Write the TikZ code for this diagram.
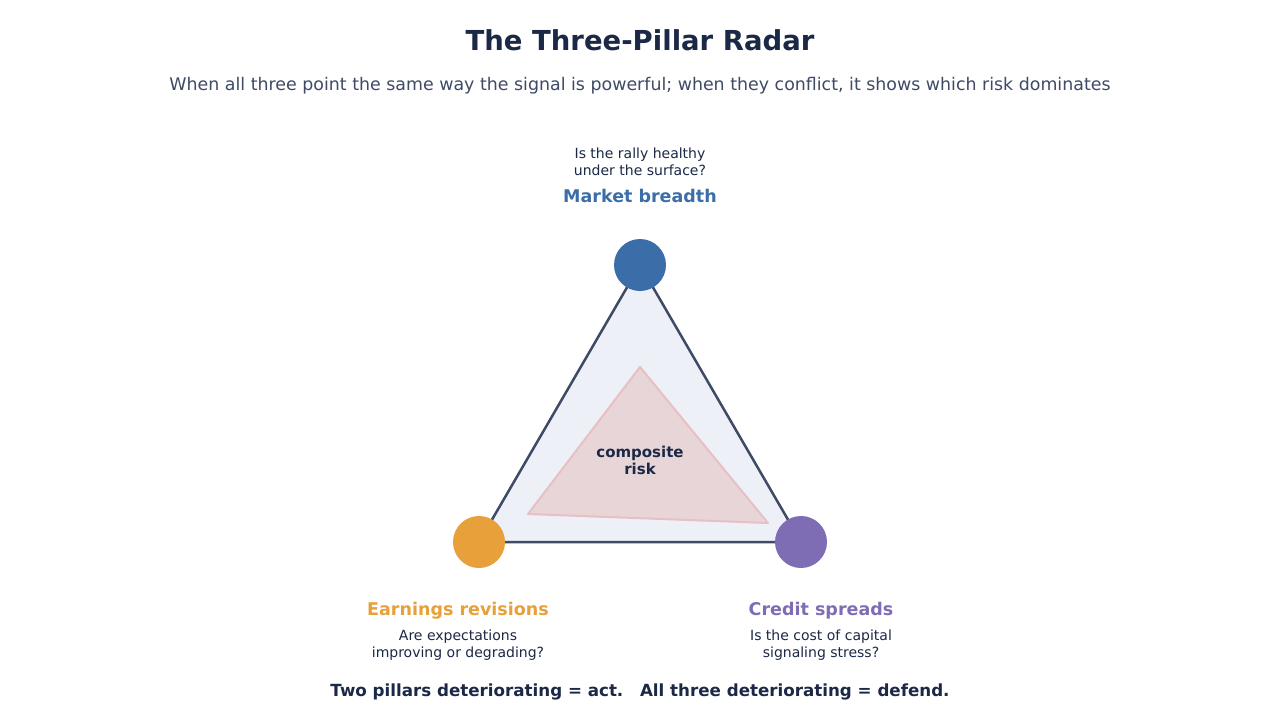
\documentclass[tikz,border=0pt]{standalone}
\usepackage{fontspec}
\setmainfont{DejaVu Sans}
\usetikzlibrary{positioning}
\definecolor{titlenavy}{HTML}{1B2846}
\definecolor{subgray}{HTML}{3F4A66}
\definecolor{breadthblue}{HTML}{3B6EA8}
\definecolor{earnorange}{HTML}{E8A03A}
\definecolor{creditpurple}{HTML}{7E6DB5}
\definecolor{outerfill}{HTML}{EDF0F7}
\definecolor{riskfill}{HTML}{E8D5D8}
\definecolor{riskline}{HTML}{E8C0C4}

\begin{document}
\begin{tikzpicture}[
  x=1pt, y=-1pt,
  pillar/.style={circle, fill=#1, minimum size=52pt, inner sep=0pt},
  pname/.style={text=#1, font=\fontsize{17.5}{20}\selectfont\bfseries},
  question/.style={text=titlenavy, font=\fontsize{14}{16.5}\selectfont, align=center},
]
\useasboundingbox[fill=white] (0,0) rectangle (1280,720);

\node[text=titlenavy, font=\fontsize{27.5}{32}\selectfont\bfseries] (title) at (640,40) {The Three-Pillar Radar};
\node[text=subgray, font=\fontsize{17.4}{20}\selectfont] (subtitle) at (640,86)
  {When all three point the same way the signal is powerful; when they conflict, it shows which risk dominates};

% pillars
\coordinate (mbP) at (640,265);
\coordinate (erP) at (479,542);
\coordinate (csP) at (801,542);

\draw[subgray, line width=2.5pt, fill=outerfill, line join=round] (mbP) -- (erP) -- (csP) -- cycle;

% composite risk
\coordinate (rA) at (640,367);
\coordinate (rB) at (528,514);
\coordinate (rC) at (768,523);
\draw[riskline, line width=2pt, fill=riskfill, line join=round] (rA) -- (rB) -- (rC) -- cycle;
\node[text=titlenavy, font=\fontsize{15}{17}\selectfont\bfseries, align=center] (risk) at (640,460) {composite\\risk};

\node[pillar=breadthblue]  (mb) at (mbP) {};
\node[pillar=earnorange]   (er) at (erP) {};
\node[pillar=creditpurple] (cs) at (csP) {};

% labels
\node[pname=breadthblue] (mbName) at (640,196) {Market breadth};
\node[question] (mbQ) at (640,162) {Is the rally healthy\\under the surface?};

\node[pname=earnorange] (erName) at (458,611) {Earnings revisions};
\node[question] (erQ) at (458,645) {Are expectations\\improving or degrading?};

\node[pname=creditpurple] (csName) at (821,611) {Credit spreads};
\node[question] (csQ) at (821,645) {Is the cost of capital\\signaling stress?};

\node[text=titlenavy, font=\fontsize{16.7}{20}\selectfont\bfseries] (rule) at (640,692)
  {Two pillars deteriorating = act.\quad All three deteriorating = defend.};
\end{tikzpicture}
\end{document}
